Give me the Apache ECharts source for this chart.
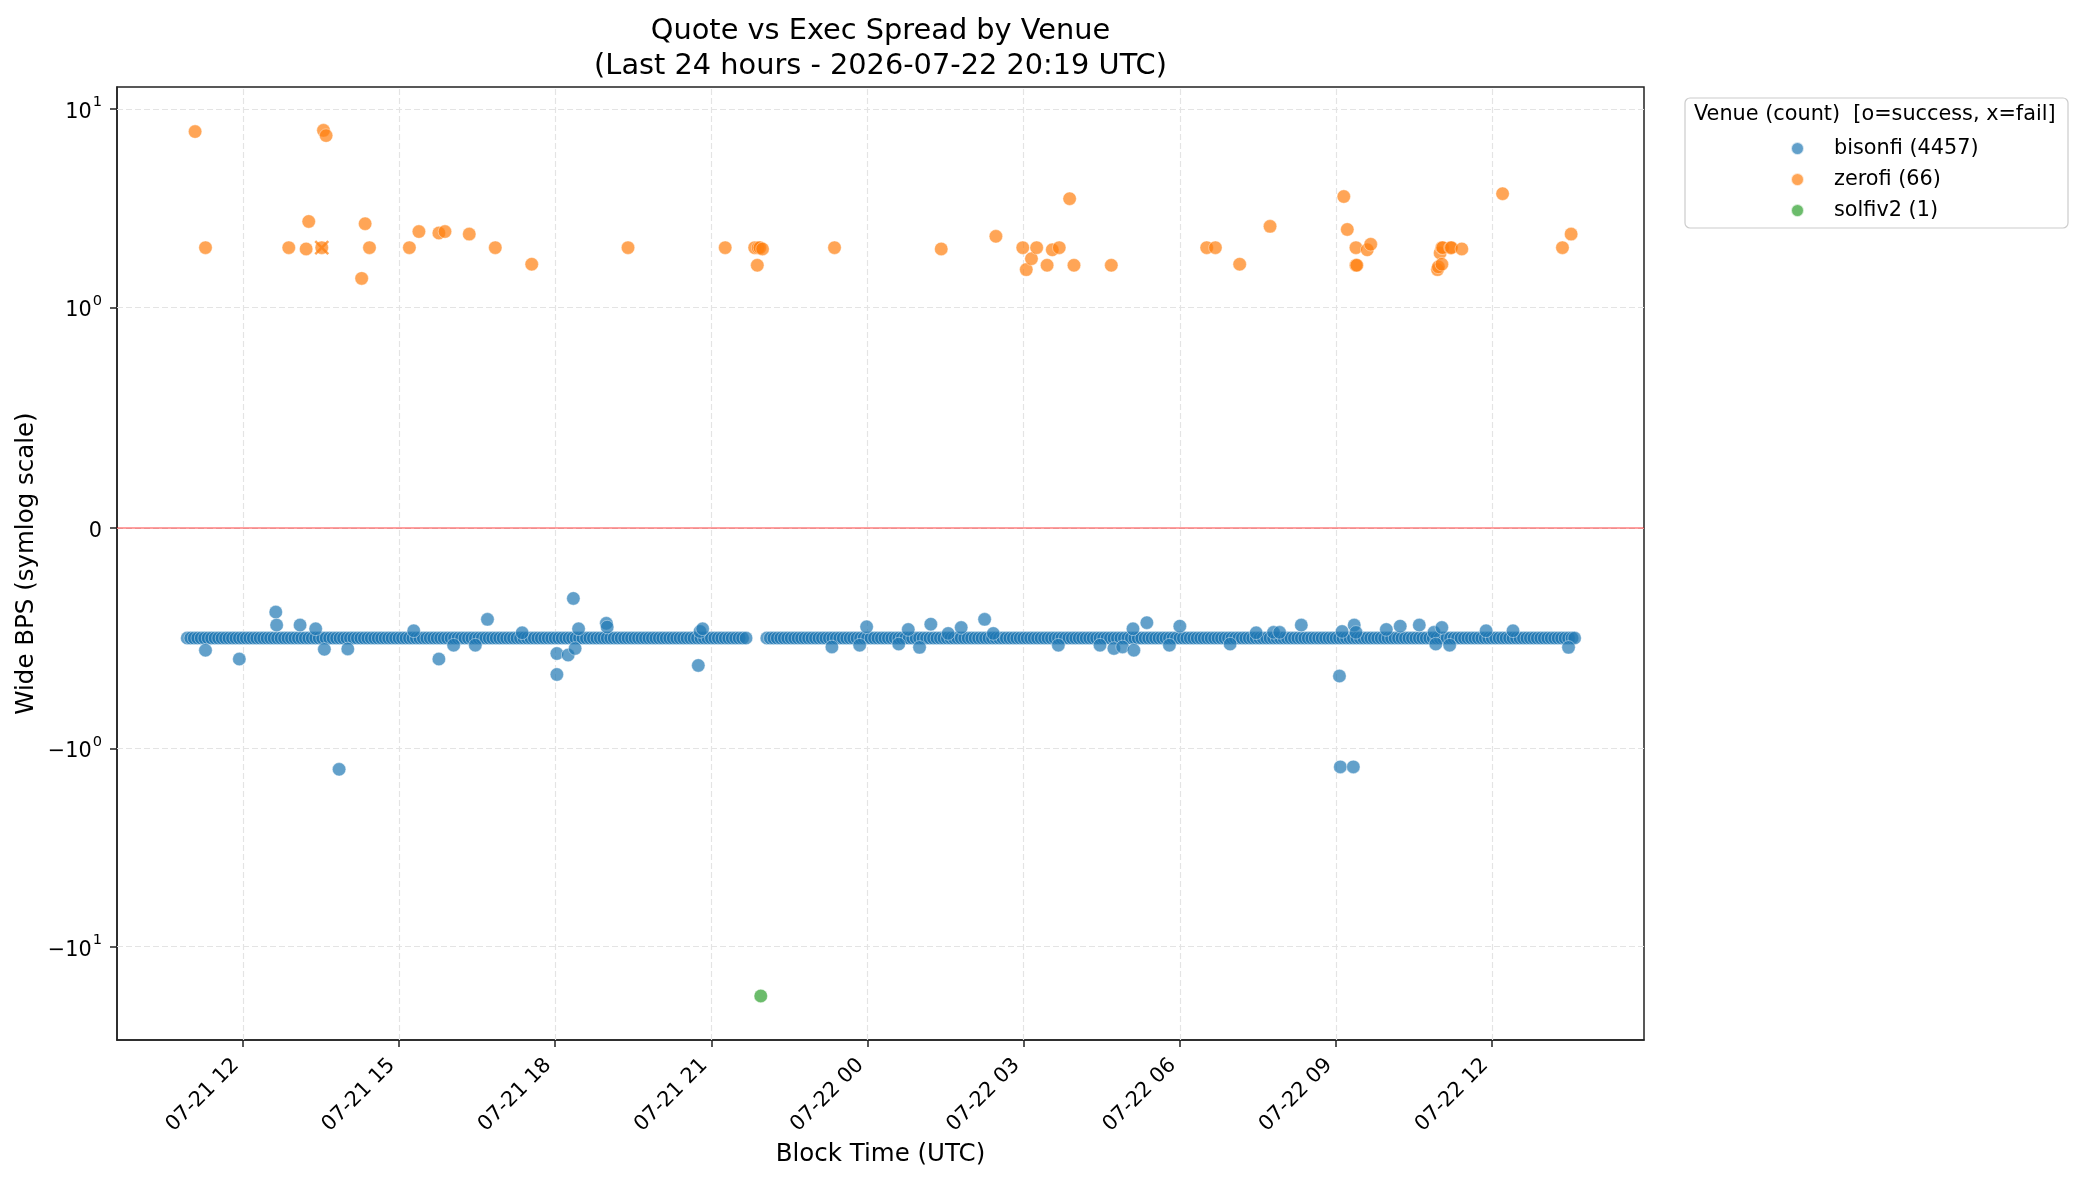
<!DOCTYPE html>
<html>
<head>
<meta charset="utf-8">
<title>Quote vs Exec Spread by Venue</title>
<script src="https://cdn.jsdelivr.net/npm/echarts@6/dist/echarts.min.js"></script>
<style>
html, body {margin:0; padding:0; background:#fff;}
#charts_area {width:2082px; height:1183px;}
</style>
</head>
<body>
<div id="charts_area"></div>
<script>
// ---------- data (times are UTC 'MM-DD HH:MM') ----------
var venueNames = ['bisonfi (4457)', 'zerofi (66)', 'solfiv2 (1)'];
var xTickLabels = ['07-21 12', '07-21 15', '07-21 18', '07-21 21', '07-22 00',
                   '07-22 03', '07-22 06', '07-22 09', '07-22 12'];
var yTickValues = [-10, -1, 0, 1, 10];
var yTickLabels = ['{b|\u221210}{s|1}', '{b|\u221210}{s|0}', '{b|0}', '{b|10}{s|0}', '{b|10}{s|1}'];
var xRange = ['07-21 09:35', '07-22 14:55'];
var yRange = [-29.5, 12.9];

// bisonfi: the dense band at -0.5 bps, minutes listed per hour
var bisonfiBaseValue = -0.5;
var bisonfiBaseHours = ['07-21 10', '07-21 11', '07-21 12', '07-21 13', '07-21 14', '07-21 15',
                        '07-21 16', '07-21 17', '07-21 18', '07-21 19', '07-21 20', '07-21 21',
                        '07-21 22', '07-21 23', '07-22 00', '07-22 01', '07-22 02', '07-22 03',
                        '07-22 04', '07-22 05', '07-22 06', '07-22 07', '07-22 08', '07-22 09',
                        '07-22 10', '07-22 11', '07-22 12', '07-22 13'];
var fullHour = [0, 4, 8, 12, 16, 20, 24, 28, 32, 36, 40, 44, 48, 52, 56];
var bisonfiBaseMinutes = [
    [56],
    fullHour, fullHour, fullHour, fullHour, fullHour, fullHour, fullHour, fullHour, fullHour, fullHour,
    [0, 4, 8, 12, 16, 20, 24, 28, 32, 36, 40],
    [4, 8, 12, 16, 20, 24, 28, 32, 36, 40, 44, 48, 52, 56],
    fullHour, fullHour, fullHour, fullHour, fullHour, fullHour, fullHour, fullHour, fullHour,
    fullHour, fullHour, fullHour, fullHour, fullHour,
    [0, 4, 8, 12, 16, 20, 24, 28, 32, 35]
];

// bisonfi points off the band
var bisonfiOutTimes = ['07-21 11:17', '07-21 11:56', '07-21 12:38', '07-21 12:39', '07-21 13:06',
    '07-21 13:24', '07-21 13:34', '07-21 13:51', '07-21 14:01', '07-21 15:17', '07-21 15:46',
    '07-21 16:03', '07-21 16:28', '07-21 16:42', '07-21 17:22', '07-21 18:02', '07-21 18:02',
    '07-21 18:15', '07-21 18:21', '07-21 18:23', '07-21 18:27', '07-21 18:59', '07-21 19:00',
    '07-21 20:45', '07-21 20:47', '07-21 20:50', '07-21 23:19', '07-21 23:51', '07-21 23:59',
    '07-22 00:36', '07-22 00:47', '07-22 01:00', '07-22 01:13', '07-22 01:33', '07-22 01:48',
    '07-22 02:15', '07-22 02:25', '07-22 03:40', '07-22 04:28', '07-22 04:44', '07-22 04:54',
    '07-22 05:06', '07-22 05:07', '07-22 05:22', '07-22 05:48', '07-22 06:00', '07-22 06:58',
    '07-22 07:28', '07-22 07:48', '07-22 07:55', '07-22 08:20', '07-22 09:04', '07-22 09:05',
    '07-22 09:07', '07-22 09:20', '07-22 09:21', '07-22 09:23', '07-22 09:58', '07-22 10:14',
    '07-22 10:36', '07-22 10:53', '07-22 10:55', '07-22 11:02', '07-22 11:11', '07-22 11:53',
    '07-22 12:24', '07-22 13:28'];
var bisonfiOutValues = [-0.555, -0.595, -0.382, -0.441, -0.441,
    -0.458, -0.551, -1.276, -0.549, -0.467, -0.595,
    -0.532, -0.532, -0.415, -0.476, -0.570, -0.665,
    -0.577, -0.320, -0.547, -0.458, -0.433, -0.45,
    -0.624, -0.47, -0.458, -0.54, -0.532, -0.449,
    -0.527, -0.461, -0.542, -0.437, -0.479, -0.452,
    -0.415, -0.479, -0.532, -0.532, -0.547, -0.54,
    -0.458, -0.555, -0.43, -0.532, -0.446, -0.527,
    -0.476, -0.474, -0.474, -0.441, -0.672, -1.24,
    -0.47, -1.24, -0.441, -0.474, -0.461, -0.446,
    -0.441, -0.474, -0.527, -0.452, -0.532, -0.467,
    -0.467, -0.542];

// zerofi successes
var zerofiTimes = ['07-21 11:05', '07-21 11:17', '07-21 12:53', '07-21 13:13', '07-21 13:16',
    '07-21 13:31', '07-21 13:33', '07-21 13:36', '07-21 14:17', '07-21 14:21', '07-21 14:26',
    '07-21 15:12', '07-21 15:23', '07-21 15:46', '07-21 15:53', '07-21 16:21', '07-21 16:51',
    '07-21 17:33', '07-21 19:24', '07-21 21:16', '07-21 21:50', '07-21 21:53', '07-21 21:54',
    '07-21 21:56', '07-21 21:59', '07-21 23:22',
    '07-22 01:25', '07-22 02:28', '07-22 02:59', '07-22 03:03', '07-22 03:09', '07-22 03:15',
    '07-22 03:27', '07-22 03:33', '07-22 03:41', '07-22 03:53', '07-22 03:58', '07-22 04:41',
    '07-22 06:31', '07-22 06:41', '07-22 07:09', '07-22 07:44', '07-22 09:09', '07-22 09:13',
    '07-22 09:23', '07-22 09:23', '07-22 09:24', '07-22 09:36', '07-22 09:40', '07-22 10:57',
    '07-22 10:58', '07-22 11:00', '07-22 11:02', '07-22 11:02', '07-22 11:03', '07-22 11:12',
    '07-22 11:13', '07-22 11:25', '07-22 12:12', '07-22 13:21', '07-22 13:31'];
var zerofiValues = [7.69, 2.0, 2.0, 1.97, 2.71,
    2.0, 7.8, 7.34, 1.40, 2.64, 2.0,
    2.0, 2.41, 2.37, 2.41, 2.34, 2.0,
    1.65, 2.0, 2.0, 2.0, 1.63, 2.0,
    2.0, 1.97, 2.0,
    1.97, 2.28, 2.0, 1.55, 1.76, 2.0,
    1.63, 1.95, 2.0, 3.53, 1.63, 1.63,
    2.0, 2.0, 1.65, 2.56, 3.62, 2.47,
    2.0, 1.63, 1.63, 1.95, 2.08, 1.55,
    1.60, 1.88, 2.0, 1.65, 2.0, 2.0,
    2.0, 1.97, 3.74, 2.0, 2.34];
// zerofi failures
var zerofiFailTimes = ['07-21 13:31'];
var zerofiFailValues = [2.0];
// solfiv2
var solfiTimes = ['07-21 21:57'];
var solfiValues = [-17.7];

// ---------- helpers ----------
function toTime(s){
    var p = s.split(/[- :]/);
    return Date.UTC(2026, p[0] - 1, +p[1], +p[2], +(p[3] || 0));
}
// matplotlib symlog, linthresh=1, linscale=1, base 10
function symlog(v){
    var lin = 1 / (1 - 1 / 10);
    if (Math.abs(v) <= 1) return v * lin;
    return (v > 0 ? 1 : -1) * (lin + Math.log10(Math.abs(v)));
}
function buildPoints(times, values){
    var pts = [];
    for (var i = 0; i < times.length; i++){
        pts.push([toTime(times[i]), symlog(values[i])]);
    }
    return pts;
}

initEcharts();

function initEcharts(){
    var myChart = echarts.init(document.getElementById('charts_area'));

    var bisonfiData = [];
    for (var h = 0; h < bisonfiBaseHours.length; h++){
        var mins = bisonfiBaseMinutes[h];
        for (var m = 0; m < mins.length; m++){
            bisonfiData.push([toTime(bisonfiBaseHours[h] + ':' + mins[m]), symlog(bisonfiBaseValue)]);
        }
    }
    bisonfiData = bisonfiData.concat(buildPoints(bisonfiOutTimes, bisonfiOutValues));

    var xTicks = [];
    for (var i = 0; i < xTickLabels.length; i++) xTicks.push(toTime(xTickLabels[i] + ':00'));
    var yTicks = [];
    for (var j = 0; j < yTickValues.length; j++) yTicks.push(symlog(yTickValues[j]));

    var gridLines = [];
    for (var a = 0; a < xTicks.length; a++) gridLines.push({xAxis: xTicks[a]});
    for (var b = 0; b < yTicks.length; b++) gridLines.push({yAxis: yTicks[b]});

    var font = 'DejaVu Sans';
    var circleStyle = function(color){
        return {color: color, opacity: 0.7, borderColor: '#ffffff', borderWidth: 0.6};
    };

    var option = {
        animation: false,
        backgroundColor: '#ffffff',
        textStyle: {fontFamily: font, color: '#000'},
        title: [
            {
                text: 'Quote vs Exec Spread by Venue\n(Last 24 hours - 2026-07-22 20:19 UTC)',
                left: 880.5,
                top: 14,
                textAlign: 'center',
                padding: 0,
                textStyle: {fontFamily: font, fontSize: 28.8, fontWeight: 'normal', lineHeight: 35, color: '#000'}
            },
            {
                text: 'Venue (count)  [o=success, x=fail]',
                left: 1694,
                top: 104,
                padding: 0,
                textStyle: {fontFamily: font, fontSize: 20.8, fontWeight: 'normal', lineHeight: 22, color: '#000'}
            }
        ],
        graphic: [{
            type: 'rect',
            z: 1,
            shape: {x: 1685, y: 98, width: 383, height: 130, r: 5},
            style: {fill: 'rgba(255,255,255,0.8)', stroke: '#cccccc', lineWidth: 1.2}
        }],
        legend: {
            data: venueNames,
            orient: 'vertical',
            left: 1790,
            top: 138,
            padding: 0,
            itemWidth: 13,
            itemHeight: 13,
            itemGap: 10,
            icon: 'circle',
            itemStyle: {opacity: 0.7},
            textStyle: {fontFamily: font, fontSize: 20.8, lineHeight: 21, color: '#000', padding: [0, 0, 0, 25]}
        },
        grid: {
            left: 117,
            right: 438,
            top: 87,
            bottom: 143,
            containLabel: false,
            outerBoundsMode: 'none',
            show: true,
            borderColor: '#222',
            borderWidth: 1.5,
            backgroundColor: '#fff'
        },
        xAxis: {
            type: 'value',
            min: toTime(xRange[0]),
            max: toTime(xRange[1]),
            name: 'Block Time (UTC)',
            nameLocation: 'middle',
            nameGap: 102,
            nameMoveOverlap: false,
            nameTextStyle: {fontFamily: font, fontSize: 24.5, color: '#000'},
            axisLine: {show: true, onZero: false, lineStyle: {color: '#222', width: 1.5}},
            axisTick: {show: true, customValues: xTicks, length: 7, lineStyle: {color: '#222', width: 1.5}},
            axisLabel: {
                show: true,
                customValues: xTicks,
                rotate: 45,
                margin: 15,
                padding: [0, 10, 0, 0],
                fontFamily: font,
                fontSize: 20.8,
                color: '#000',
                formatter: function(val){
                    for (var k = 0; k < xTicks.length; k++){
                        if (Math.abs(xTicks[k] - val) < 1000) return xTickLabels[k];
                    }
                    return '';
                }
            },
            splitLine: {show: false}
        },
        yAxis: {
            type: 'value',
            min: symlog(yRange[0]),
            max: symlog(yRange[1]),
            name: 'Wide BPS (symlog scale)',
            nameLocation: 'middle',
            nameGap: 78,
            nameMoveOverlap: false,
            nameTextStyle: {fontFamily: font, fontSize: 24.5, color: '#000'},
            axisLine: {show: true, onZero: false, lineStyle: {color: '#222', width: 1.5}},
            axisTick: {show: true, customValues: yTicks, length: 7, lineStyle: {color: '#222', width: 1.5}},
            axisLabel: {
                show: true,
                customValues: yTicks,
                margin: 15,
                fontFamily: font,
                color: '#000',
                rich: {
                    b: {fontFamily: font, fontSize: 20.8, color: '#000', lineHeight: 28, verticalAlign: 'bottom'},
                    s: {fontFamily: font, fontSize: 14.6, color: '#000', lineHeight: 28, verticalAlign: 'top', padding: [0, 0, 0, 1]}
                },
                formatter: function(val){
                    for (var k = 0; k < yTicks.length; k++){
                        if (Math.abs(yTicks[k] - val) < 1e-6) return yTickLabels[k];
                    }
                    return '';
                }
            },
            splitLine: {show: false}
        },
        series: [
            {
                // dashed grid lines
                name: 'grid',
                type: 'scatter',
                data: [],
                silent: true,
                z: 1,
                markLine: {
                    silent: true,
                    symbol: 'none',
                    z: 1,
                    label: {show: false},
                    lineStyle: {color: '#e4e4e4', type: [6, 3], width: 1.2},
                    data: gridLines
                }
            },
            {
                name: venueNames[0],
                type: 'scatter',
                symbol: 'circle',
                symbolSize: 13.5,
                itemStyle: circleStyle('#1f77b4'),
                data: bisonfiData
            },
            {
                name: venueNames[1],
                type: 'scatter',
                symbol: 'circle',
                symbolSize: 13.5,
                itemStyle: circleStyle('#ff7f0e'),
                data: buildPoints(zerofiTimes, zerofiValues)
            },
            {
                name: 'zerofi fail',
                type: 'scatter',
                symbol: 'path://M0,0L10,10M10,0L0,10',
                symbolSize: 13,
                itemStyle: {color: 'rgba(0,0,0,0)', borderColor: '#ff7f0e', borderWidth: 2.5, opacity: 0.7},
                data: buildPoints(zerofiFailTimes, zerofiFailValues)
            },
            {
                name: venueNames[2],
                type: 'scatter',
                symbol: 'circle',
                symbolSize: 13.5,
                itemStyle: circleStyle('#2ca02c'),
                data: buildPoints(solfiTimes, solfiValues),
                markLine: {
                    // zero reference line
                    silent: true,
                    symbol: 'none',
                    label: {show: false},
                    lineStyle: {color: '#ff0000', opacity: 0.5, type: 'solid', width: 1.6},
                    data: [{yAxis: 0}]
                }
            }
        ]
    };
    myChart.setOption(option);
}
</script>
</body>
</html>
